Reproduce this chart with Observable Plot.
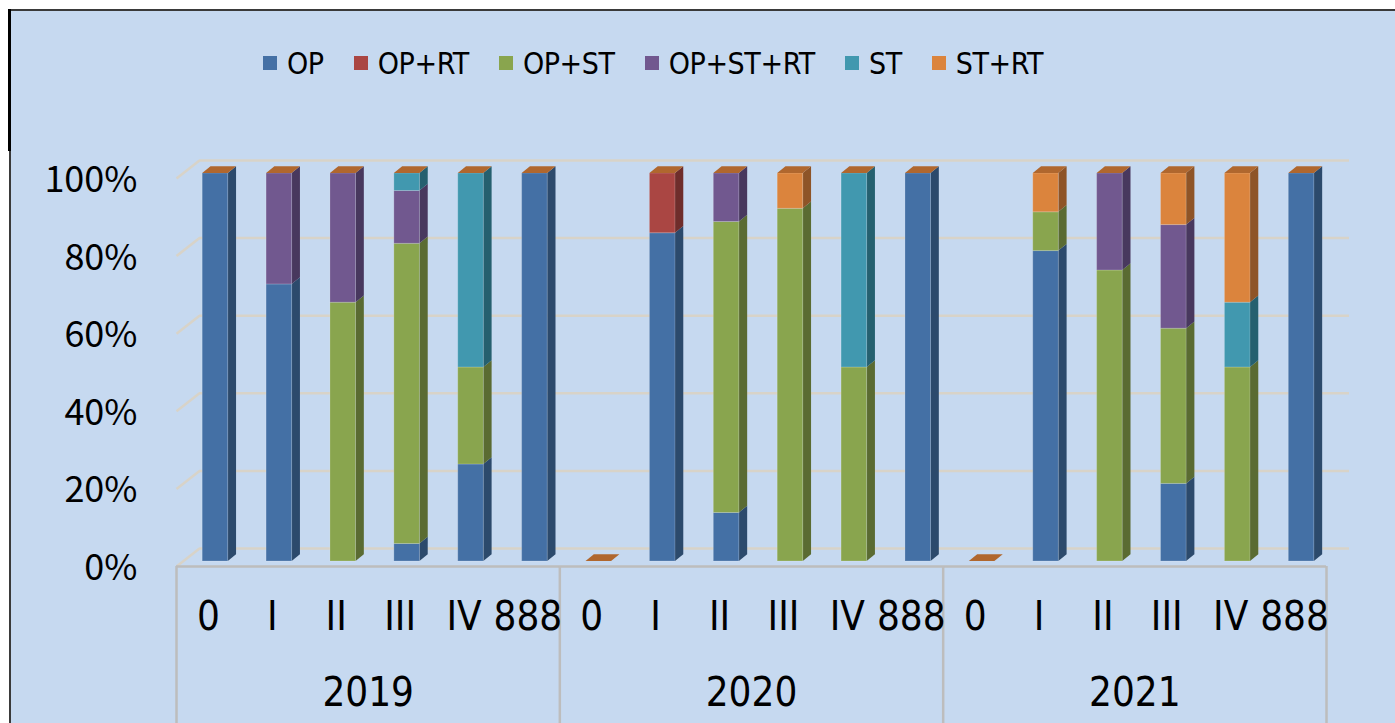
<!DOCTYPE html>
<html>
<head>
<meta charset="utf-8">
<script src="https://cdn.jsdelivr.net/npm/d3@7"></script>
<script src="https://cdn.jsdelivr.net/npm/@observablehq/plot@0.6"></script>
<style>
  html, body { margin: 0; padding: 0; background: #ffffff; }
  #page { position: relative; width: 1395px; height: 723px; overflow: hidden; background: #ffffff; }
  #bg { position: absolute; left: 9px; top: 9px; width: 1400px; height: 730px; background: #c6d9f0;
        border-left: 2px solid #3a3a3a; border-top: 2px solid #3a3a3a; }
  #leftbar { position: absolute; left: 8px; top: 9px; width: 3px; height: 142px; background: #000; }
  #legend { position: absolute; left: 263px; top: 38px; height: 50px; display: flex; align-items: center;
            font-family: "Liberation Sans Narrow", "DejaVu Sans Condensed", "Arial Narrow", sans-serif;
            font-size: 30px; letter-spacing: -0.4px; color: #000; white-space: nowrap; }
  .item { display: flex; align-items: center; margin-right: 30px; }
  .sw { width: 14px; height: 14px; margin-right: 10px; }
  #chart { position: absolute; left: 0; top: 100px; }
</style>
</head>
<body>
<div id="page">
  <div id="bg"></div>
  <div id="leftbar"></div>
  <div id="legend"></div>
  <div id="chart"></div>
</div>
<script>
// ---------- data ----------
const years = ["2019", "2020", "2021"];
const stages = ["0", "I", "II", "III", "IV", "888"];
const seriesNames = ["OP", "OP+RT", "OP+ST", "OP+ST+RT", "ST", "ST+RT"];
const seriesColors = ["#4470a5", "#aa4643", "#89a54e", "#71588f", "#4198af", "#db843d"];
const sideColors   = ["#2c4a6c", "#6f2d2b", "#5a6b32", "#48385e", "#25606f", "#8e5427"];
const topColor = "#b0672e";

// percentages per category, order: 2019 [0,I,II,III,IV,888], 2020 [...], 2021 [...]
const OP       = [100, 71.4, 0, 4.5, 25, 100,   0, 84.6, 12.5, 0, 0, 100,   0, 80, 0, 20, 0, 100];
const OP_RT    = [0, 0, 0, 0, 0, 0,             0, 15.4, 0, 0, 0, 0,        0, 0, 0, 0, 0, 0];
const OP_ST    = [0, 0, 66.7, 77.3, 25, 0,      0, 0, 75, 90.9, 50, 0,      0, 10, 75, 40, 50, 0];
const OP_ST_RT = [0, 28.6, 33.3, 13.6, 0, 0,    0, 0, 12.5, 0, 0, 0,        0, 0, 25, 26.7, 0, 0];
const ST       = [0, 0, 0, 4.5, 50, 0,          0, 0, 0, 0, 50, 0,          0, 0, 0, 0, 16.7, 0];
const ST_RT    = [0, 0, 0, 0, 0, 0,             0, 0, 0, 9.1, 0, 0,         0, 10, 0, 13.3, 33.3, 0];

const yTicks = [0, 20, 40, 60, 80, 100];
const yTickLabels = ["0%", "20%", "40%", "60%", "80%", "100%"];

// ---------- legend ----------
const legend = document.getElementById("legend");
seriesNames.forEach((name, k) => {
  const it = document.createElement("div");
  it.className = "item";
  it.innerHTML = `<div class="sw" style="background:${seriesColors[k]}"></div><span>${name}</span>`;
  legend.appendChild(it);
});

// ---------- derived tables ----------
const seriesValues = [OP, OP_RT, OP_ST, OP_ST_RT, ST, ST_RT];
const cats = years.flatMap((yr, yi) => stages.map((st, si) => ({year: yr, stage: st, i: yi * stages.length + si})));

// 3D look (in scale units)
const BAR_L = 0.41, BAR_R = 0.81;      // bar front inside each category slot
const DEPTH_X = 0.13, DEPTH_Y = 1.73;  // bar depth
const WALL_X = 0.36, WALL_Y = 4.64;    // chart walls depth

const segments = [];
const tops = [];
cats.forEach(c => {
  const total = d3.sum(seriesValues, s => s[c.i]);
  let cum = 0;
  seriesValues.forEach((s, k) => {
    const v = s[c.i];
    if (v > 0) {
      const y1 = cum / total * 100, y2 = (cum + v) / total * 100;
      segments.push({i: c.i, y1, y2, fill: seriesColors[k], side: sideColors[k]});
    }
    cum += v;
  });
  tops.push({i: c.i, t: total > 0 ? 100 : 0});
});

const sidePts = segments.flatMap((s, j) => [
  {id: j, x: s.i + BAR_R, lo: s.y1, hi: s.y2, fill: s.side},
  {id: j, x: s.i + BAR_R + DEPTH_X, lo: s.y1 + DEPTH_Y, hi: s.y2 + DEPTH_Y, fill: s.side}
]);
const topPts = tops.flatMap((t, j) => [
  {id: j, x: t.i + BAR_L, lo: t.t, hi: t.t},
  {id: j, x: t.i + BAR_L + DEPTH_X, lo: t.t, hi: t.t + DEPTH_Y},
  {id: j, x: t.i + BAR_R, lo: t.t, hi: t.t + DEPTH_Y},
  {id: j, x: t.i + BAR_R + DEPTH_X, lo: t.t + DEPTH_Y, hi: t.t + DEPTH_Y}
]);

const nCats = cats.length;
const narrow = '"Liberation Sans Narrow", "DejaVu Sans Condensed", "Arial Narrow", sans-serif';
const gridColor = "#d8d3c8";
const boxColor = "#bdbdbd";

const chart = Plot.plot({
  width: 1395,
  height: 623,
  marginLeft: 0, marginRight: 0, marginTop: 0, marginBottom: 0,
  style: {background: "transparent", overflow: "visible"},
  x: {type: "linear", domain: [0, nCats], range: [176, 1326], axis: null},
  y: {domain: [0, 100], range: [461, 73], axis: null},
  color: {type: "identity"},
  marks: [
    // back wall gridlines
    Plot.ruleY(yTicks, {y: d => d, x1: WALL_X, x2: nCats + WALL_X, dy: -13, stroke: gridColor, strokeWidth: 2.5}),
    // side wall gridlines
    Plot.link(yTicks, {x1: 0, x2: WALL_X, y1: d => d, y2: d => d + WALL_Y, dy: 5, stroke: gridColor, strokeWidth: 2.5}),
    // floor front edge / axis box
    Plot.ruleY([0], {y: d => d, x1: 0, x2: nCats, dy: 5, stroke: boxColor, strokeWidth: 2.5}),
    Plot.ruleX([0, 6, 12, 18], {x: d => d, y1: 0, y2: -60, dy: 5, stroke: boxColor, strokeWidth: 2.5}),
    // bar side faces
    Plot.areaY(sidePts, {x: "x", y1: "lo", y2: "hi", z: "id", fill: "fill", curve: "linear"}),
    // bar fronts
    Plot.rect(segments, {x1: d => d.i + BAR_L, x2: d => d.i + BAR_R, y1: "y1", y2: "y2", fill: "fill",
      stroke: "#ffffff", strokeOpacity: 0.18, strokeWidth: 1}),
    // bar tops
    Plot.areaY(topPts, {x: "x", y1: "lo", y2: "hi", z: "id", fill: topColor, curve: "linear"}),
    // y tick labels
    Plot.text(yTicks, {x: 0, y: d => d, text: (d, i) => yTickLabels[i], textAnchor: "end", dx: -39, dy: 7,
      fontSize: 36, fontFamily: '"Noto Sans CJK SC", "Open Sans", sans-serif', fill: "#000"}),
    // stage labels
    Plot.text(cats, {x: d => d.i + 0.5, y: 0, text: d => d.stage, dy: 56, fontSize: 40, fontFamily: narrow, fill: "#000"}),
    // year labels
    Plot.text(years, {x: (d, i) => i * stages.length + stages.length / 2, y: 0, text: d => d, dy: 132,
      fontSize: 40, fontFamily: narrow, fill: "#000"})
  ]
});
document.getElementById("chart").appendChild(chart);
</script>
</body>
</html>
